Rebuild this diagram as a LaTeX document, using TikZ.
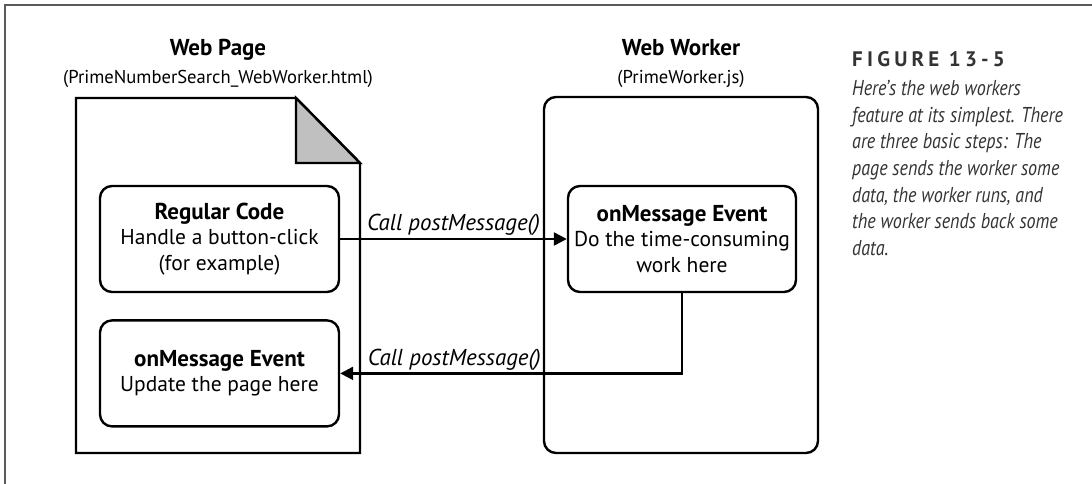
\documentclass[tikz,border=0pt]{standalone}
\usepackage{fontspec}
\setmainfont{PT Sans}
\newfontfamily\capfont[FakeStretch=0.84]{PT Sans}
\newfontfamily\figfont[LetterSpace=20]{PT Sans}
\usetikzlibrary{arrows.meta,positioning}
\definecolor{foldgray}{HTML}{C0C0C0}
\definecolor{framegray}{HTML}{5A5A5A}
\definecolor{captext}{HTML}{333333}
\newcommand{\boxhead}[1]{{\fontsize{23}{26}\selectfont\bfseries #1}}
\tikzset{
  boxtitle/.style={align=center, font=\fontsize{18.6}{28}\selectfont},
  codebox/.style={rectangle, rounded corners=12pt, draw=black, line width=2.4pt, fill=white, align=center, minimum width=239pt, minimum height=106pt, font=\fontsize{21.5}{25.5}\selectfont},
  workerbox/.style={rectangle, rounded corners=12pt, draw=black, line width=2.4pt, minimum width=274pt, minimum height=356pt},
  pageline/.style={draw=black, line width=2.4pt, line join=miter},
  callarrow/.style={-{Triangle[length=13pt,width=13pt]}, line width=2.4pt},
  calllabel/.style={font=\fontsize{23}{26}\selectfont\itshape, inner sep=2pt},
  captitle/.style={anchor=north west, inner sep=0pt, text=captext, font=\fontsize{21}{23}\selectfont\figfont\bfseries},
  captext/.style={anchor=north west, inner sep=0pt, align=left, text=captext, font=\fontsize{21.5}{26.7}\selectfont\capfont\itshape}
}

\begin{document}
\begin{tikzpicture}[x=1pt, y=-1pt]
\useasboundingbox (0,0) rectangle (1092,484);
% frame
\draw[framegray, line width=1.6pt] (5,484) -- (5,5) -- (1092,5);
% web page
\node[boxtitle] (pagetitle) at (218,63) {\boxhead{Web Page}\\(PrimeNumberSearch\_WebWorker.html)};
\coordinate (pagenw) at (76,98);
\coordinate (foldtop) at (296,98);
\coordinate (foldin) at (296,163);
\coordinate (foldout) at (360,163);
\coordinate (pagese) at (360,453);
\draw[pageline] (pagenw) -- (foldtop) -- (foldout) -- (pagese) -- (pagenw |- pagese) -- cycle;
\draw[pageline, fill=foldgray] (foldtop) -- (foldin) -- (foldout) -- cycle;
\node[codebox] (regular) at (219.5,239) {\boxhead{Regular Code}\\Handle a button-click\\(for example)};
\node[codebox, below=26pt of regular] (update) {\boxhead{onMessage Event}\\Update the page here};
% web worker
\node[boxtitle] (workertitle) at (681,63) {\boxhead{Web Worker}\\(PrimeWorker.js)};
\node[workerbox] (worker) at (681,275) {};
\node[codebox, minimum width=228pt] (workmsg) at (682,239) {\boxhead{onMessage Event}\\Do the time-consuming\\work here};
% messages
\draw[callarrow] (regular) -- (workmsg) node[midway, above, calllabel] {Call postMessage()};
\draw[callarrow] (workmsg) |- (update) node[pos=0.833, above, calllabel] {Call postMessage()};
% caption
\node[captitle] (figlabel) at (852,51) {FIGURE 13-5};
\node[captext] (figtext) at (852,80) {Here’s the web workers\\feature at its simplest. There\\are three basic steps: The\\page sends the worker some\\data, the worker runs, and\\the worker sends back some\\data.};
\end{tikzpicture}
\end{document}
